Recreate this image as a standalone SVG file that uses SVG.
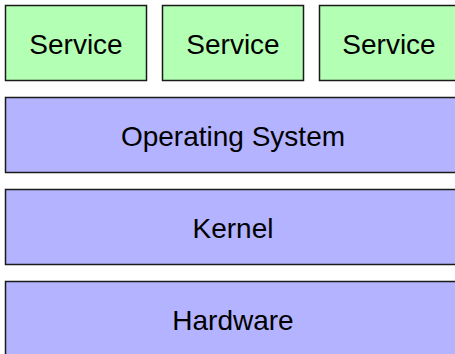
<svg xmlns="http://www.w3.org/2000/svg" width="455" height="354" viewBox="0 0 455 354">
<style>
.svc{fill:#b3ffb3;stroke:#1a1a1a;stroke-width:1.5}
.lay{fill:#b3b3ff;stroke:#1a1a1a;stroke-width:1.5}
text{font-family:"Liberation Sans",Arial,sans-serif;font-size:28px;fill:#000;text-anchor:middle}
</style>
<g id="service1"><rect class="svc" x="5.5" y="5.5" width="141" height="75"/><text x="76" y="54">Service</text></g>
<g id="service2"><rect class="svc" x="162.5" y="5.5" width="141" height="75"/><text x="233" y="54">Service</text></g>
<g id="service3"><rect class="svc" x="319.5" y="5.5" width="141" height="75"/><text x="389" y="54">Service</text></g>
<g id="os"><rect class="lay" x="5.5" y="97.5" width="455" height="75"/><text x="233" y="146">Operating System</text></g>
<g id="kernel"><rect class="lay" x="5.5" y="189.5" width="455" height="75"/><text x="233" y="238">Kernel</text></g>
<g id="hardware"><rect class="lay" x="5.5" y="281.5" width="455" height="75"/><text x="233" y="330">Hardware</text></g>
<g id="connectors"/>
</svg>
